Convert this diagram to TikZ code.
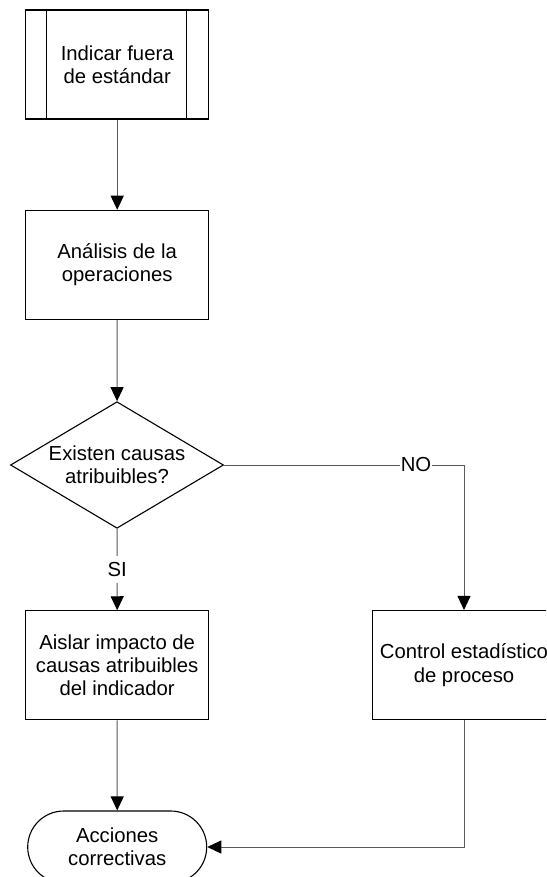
\documentclass[tikz,border=0pt]{standalone}
\usepackage{fontspec}
\setmainfont{Liberation Sans}
\usetikzlibrary{arrows.meta,shapes.geometric,shapes.misc,calc}

\begin{document}
\begin{tikzpicture}[x=1pt,y=-1pt,
  lbl/.style={font=\fontsize{20.3}{23.4}\selectfont, align=center},
  shapeline/.style={draw=black, line width=1.1pt},
  procbox/.style={lbl, shapeline, rectangle, minimum width=183pt, minimum height=109pt, inner sep=2pt},
  decision/.style={lbl, shapeline, diamond, aspect=1.68, minimum width=213pt, minimum height=126.6pt, inner sep=0pt},
  terminal/.style={lbl, shapeline, rounded rectangle, minimum width=183pt, minimum height=72pt, inner sep=2pt},
  flow/.style={draw=black!65, line width=1pt, -{Triangle[length=14pt,width=13pt,color=black]}},
  flowlabel/.style={lbl, fill=white, inner xsep=1pt, inner ysep=6.5pt}
]
  \useasboundingbox (0,0) rectangle (546,877);
  \clip (0,0) rectangle (546,877);

  % nodes
  \node[procbox] (ind) at (117.2,64.5) {Indicar fuera\\de estándar};
  \node[procbox] (ana) at (117.2,264.8) {Análisis de la\\operaciones};
  \node[decision] (dec) at (117.0,465) {Existen causas\\atribuibles?};
  \node[procbox] (ais) at (117.2,665.3) {Aislar impacto de\\causas atribuibles\\del indicador};
  \node[procbox, minimum width=183.4pt] (ctl) at (464,665.0) {Control estadístico\\de proceso};
  \node[terminal] (acc) at (117.2,847) {Acciones\\correctivas};

  % side bars of the predefined-process box
  \draw[shapeline] ($(ind.north west)+(21.6,0)$) -- ($(ind.south west)+(21.6,0)$);
  \draw[shapeline] ($(ind.north east)+(-22.4,0)$) -- ($(ind.south east)+(-22.4,0)$);

  % connectors
  \draw[flow] (ind) -- (ana);
  \draw[flow] (ana) -- (dec);
  \draw[flow] (dec.south) -- node[flowlabel] {SI} (ais.north);
  \draw[flow] (dec.east) -| node[flowlabel, pos=0.4] {NO} (ctl.north);
  \draw[flow] (ais) -- (acc);
  \draw[flow] (ctl.south) |- (acc.east);
\end{tikzpicture}
\end{document}
